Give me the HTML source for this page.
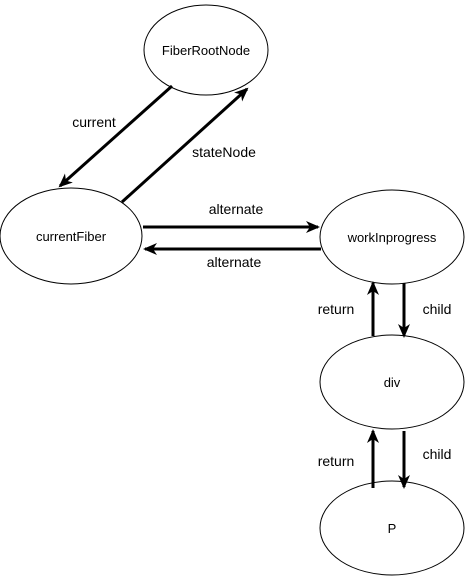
<!DOCTYPE html>
<html><head><style>body{margin:0;background:#fff}svg{display:block}</style></head><body>
<svg width="465" height="582" viewBox="0 0 465 582" xmlns="http://www.w3.org/2000/svg" font-family="Liberation Sans, sans-serif">
<defs>
<marker id="b" markerWidth="14" markerHeight="12" refX="12" refY="6" orient="auto" markerUnits="userSpaceOnUse"><path d="M0,0 L14,6 L0,12 L4,6 Z" fill="#000"/></marker></defs>
<g fill="#fff" stroke="#000" stroke-width="1">
<ellipse cx="206" cy="50" rx="62" ry="45"/>
<ellipse cx="71" cy="236" rx="71" ry="48"/>
<ellipse cx="392" cy="237" rx="72" ry="47"/>
<ellipse cx="392" cy="382" rx="72" ry="47"/>
<ellipse cx="392" cy="528" rx="72" ry="47"/>
</g>
<g stroke="#000" stroke-width="3" marker-end="url(#b)">
<line x1="172" y1="86" x2="60" y2="186"/>
<line x1="122" y1="202" x2="247" y2="89"/>
<line x1="143" y1="227" x2="318" y2="227"/>
<line x1="321" y1="249" x2="145" y2="249"/>
<line x1="373" y1="336" x2="373" y2="283"/>
<line x1="404" y1="283" x2="404" y2="336"/>
<line x1="373" y1="488" x2="373" y2="431"/>
<line x1="404" y1="431" x2="404" y2="487"/>
</g>
<g font-size="13" text-anchor="middle" fill="#000">
<text x="206" y="55">FiberRootNode</text>
<text x="71" y="241">currentFiber</text>
<text x="392" y="242">workInprogress</text>
<text x="392" y="387">div</text>
<text x="392" y="533">P</text>
</g>
<g font-size="14" text-anchor="middle" fill="#000">
<text x="94" y="127">current</text>
<text x="224" y="157">stateNode</text>
<text x="236" y="214">alternate</text>
<text x="234" y="267">alternate</text>
<text x="336" y="314">return</text>
<text x="437" y="314">child</text>
<text x="336" y="466">return</text>
<text x="437" y="459">child</text>
</g>
</svg>
</body></html>
